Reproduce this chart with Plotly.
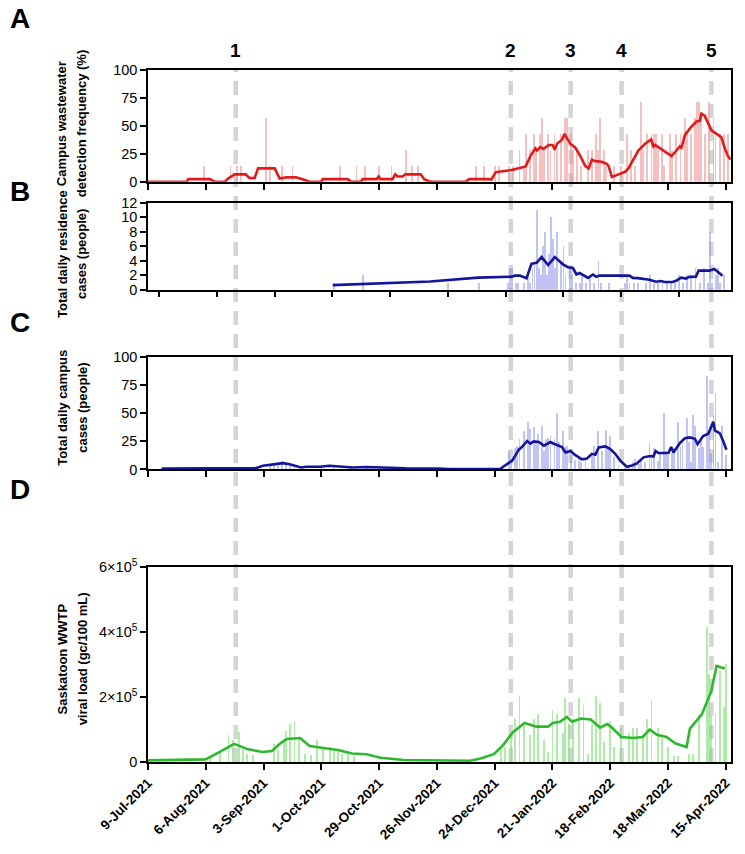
import pandas as pd
import plotly.graph_objects as go

START = pd.Timestamp("2021-07-09")

TICK_DATES = ["2021-07-09", "2021-08-06", "2021-09-03", "2021-10-01", "2021-10-29", "2021-11-26",
              "2021-12-24", "2022-01-21", "2022-02-18", "2022-03-18", "2022-04-15"]
TICK_LABELS = ["9-Jul-2021", "6-Aug-2021", "3-Sep-2021", "1-Oct-2021", "29-Oct-2021", "26-Nov-2021",
               "24-Dec-2021", "21-Jan-2022", "18-Feb-2022", "18-Mar-2022", "15-Apr-2022"]

EVENT_LABELS = ["1", "2", "3", "4", "5"]
EVENT_DAYS = [42.5, 175.8, 204.8, 229.5, 273.0]   # days after 9-Jul-2021

# ---- Panel A: campus wastewater detection frequency (%) ----
A_LINE = [(0, 0), (18.7, 0), (19.5, 2.4), (30, 2.4), (32.4, 0), (37.2, 0), (38.8, 3), (42, 6.7),
          (47.3, 6.7), (49.3, 3.3), (51.7, 3.5), (53.3, 12), (61.4, 12), (63.8, 3), (67, 4), (71.8, 4),
          (77.5, 0.7), (78.3, 0), (83.9, 0), (84.7, 2.4), (96.8, 2.4), (98.4, 0), (103.2, 0), (104, 2.4),
          (110.8, 2.4), (111.8, 4.8), (112.7, 2.4), (118.5, 2.4), (119.8, 6.7), (120.9, 4.8), (123.3, 4.8),
          (124.6, 6.7), (132.2, 6.7), (133.8, 2.4), (136.2, 0.5), (137.8, 0), (154, 0), (155.6, 2.4),
          (165.2, 2.6), (166.3, 2.0), (168.5, 8.6), (176, 10.5), (183, 13.8), (185.3, 23), (187.7, 30),
          (188.5, 28), (190.1, 31), (191.7, 29.5), (194.2, 33), (196.1, 33), (197.1, 28.6), (198.2, 34),
          (200.6, 37.6), (201.9, 43), (203, 39), (204.7, 34), (207.1, 30.5), (209.5, 23), (211.9, 14),
          (213.5, 12), (215.1, 19.8), (216.7, 18.5), (219.9, 18), (222.4, 16), (223.2, 14), (224.8, 4.3),
          (228, 6.7), (231.2, 9), (232.8, 12), (234.4, 17), (237.6, 28), (240.9, 34), (243.8, 38),
          (244.9, 31.7), (245.7, 33), (248.9, 29), (253.7, 23), (256.1, 28), (257.7, 31.7), (258.5, 30.5),
          (260.2, 42), (263.4, 49.5), (265.8, 54), (267.4, 54.5), (268.2, 61), (269.8, 59), (271.4, 53),
          (273, 46), (274.6, 44), (277, 41), (277.8, 40), (279.4, 30.5), (281, 23), (282.3, 20)]
A_BARS = [(27, 14.3), (40, 14.3), (43, 14.3), (45, 14.3), (57, 57.1), (59, 14.3), (65, 14.3), (70, 14.3),
          (93, 14.3), (101, 14.3), (105, 14.3), (112, 14.3), (118, 14.3), (125, 28.6), (128, 14.3),
          (131, 14.3), (159, 14.3), (163, 14.3), (168, 14.3), (170, 14.3), (175, 14.3), (177, 14.3),
          (180, 28.6), (182, 14.3), (183, 42.9), (185, 28.6), (187, 42.9), (188, 28.6), (190, 42.9),
          (191, 57.1), (192, 28.6), (194, 42.9), (195, 28.6), (197, 42.9), (198, 28.6), (200, 42.9),
          (202, 57.1), (203, 57.1), (205, 42.9), (206, 28.6), (208, 28.6), (210, 14.3), (213, 28.6),
          (215, 28.6), (217, 42.9), (218, 28.6), (219, 57.1), (221, 28.6), (222, 14.3), (226, 14.3),
          (229, 14.3), (232, 42.9), (234, 28.6), (236, 14.3), (239, 71.4), (240, 28.6), (242, 42.9),
          (244, 42.9), (245, 42.9), (246, 42.9), (247, 28.6), (249, 42.9), (250, 14.3), (253, 42.9),
          (254, 28.6), (256, 42.9), (258, 42.9), (260, 57.1), (261, 42.9), (263, 42.9), (265, 57.1),
          (266, 71.4), (267, 71.4), (268, 57.1), (270, 42.9), (272, 71.4), (274, 57.1), (275, 42.9),
          (277, 42.9), (279, 42.9), (281, 42.9)]

# ---- Panel B: total daily residence cases (days on panel B's own axis) ----
B_LINE = [(84.2, 0.63), (131.4, 1.14), (154.7, 1.66), (170.8, 1.8), (172.5, 1.94), (174.9, 1.94),
          (178.1, 1.57), (180.5, 3.57), (183, 3.7), (185.4, 4.5), (188.6, 3.4), (191.8, 4.5), (195.8, 3.5),
          (198.2, 3.1), (200.6, 3.0), (202.3, 2.1), (203.9, 2.3), (207.9, 1.63), (210.3, 2.1), (211.9, 1.77),
          (213.5, 1.94), (228, 1.94), (229.6, 1.63), (232, 1.6), (237.7, 1.37), (240.9, 1.09), (243.3, 1.2),
          (244.9, 1.06), (248.9, 1.06), (250.6, 1.23), (253, 1.66), (255.4, 1.54), (257, 1.77), (260.2, 1.8),
          (261.5, 2.63), (266.7, 2.63), (269.1, 2.86), (271.5, 2.29), (273.1, 1.94)]
B_BARS = [(85, 1), (99, 2), (140, 1), (155, 1), (169, 1), (170, 3), (171, 3), (173, 1), (174, 1), (177, 1),
          (179, 2), (180, 1), (181, 3), (182, 4), (183, 11), (184, 3), (185, 2), (186, 6), (187, 8), (188, 2),
          (189, 5), (190, 10), (191, 7), (192, 3), (193, 8), (195, 4), (196, 6), (197, 2), (199, 3), (200, 2),
          (202, 1), (204, 1), (205, 2), (207, 1), (209, 2), (211, 1), (213, 4), (214, 1), (218, 1), (226, 1),
          (227, 2), (228, 1), (230, 1), (232, 1), (236, 1), (238, 2), (240, 1), (242, 1), (244, 1), (246, 1),
          (248, 1), (250, 1), (252, 2), (254, 1), (256, 2), (258, 2), (260, 3), (262, 1), (264, 3), (266, 1),
          (267, 8), (268, 1), (270, 2), (271, 3), (272, 1), (274, 2)]

# ---- Panel C: total daily campus cases ----
C_LINE = [(6.6, 0.8), (52.5, 1.2), (55.7, 3.2), (60.5, 4.1), (65.4, 5.6), (68.6, 4.6), (74.2, 1.7),
          (76.7, 2.4), (83.1, 2.4), (87.9, 3.2), (89.5, 3.0), (92.8, 2.2), (99.2, 1.7), (105.6, 2.2),
          (112, 1.7), (125, 1.0), (141, 0.7), (146, 0.3), (170.9, 0.5), (172.1, 2.4), (176.5, 7.8),
          (179.7, 17.5), (181.3, 20), (183.7, 25.2), (185.3, 22.8), (186.9, 24.8), (189.4, 24.3), (191.8, 21.1),
          (195, 24.3), (196.6, 22.8), (200.6, 19.9), (202.3, 15), (204.7, 16.3), (207.1, 12.6), (210.3, 9),
          (212.7, 9.7), (215.1, 13.8), (216.8, 13.1), (218.4, 19.4), (221.6, 20.4), (224, 18), (226.4, 13.8),
          (228.8, 7.8), (232, 2.4), (234.5, 3.4), (236.9, 5.3), (240.1, 10.7), (243.3, 11.9), (244.9, 11.4),
          (246, 16.3), (247.3, 14.6), (252.2, 14.6), (253.5, 19.9), (254.6, 15), (257.8, 23.5), (260.2, 27.7),
          (262.6, 28.4), (265, 27.2), (266.3, 22.3), (269, 29.6), (271.5, 31.6), (272.8, 37.4), (273.9, 42.2),
          (274.7, 34.5), (277.1, 32), (278.7, 25.2), (280.3, 17.5)]
C_BARS = [(59, 3), (61, 5), (63, 7), (65, 8), (67, 6), (69, 5), (71, 4), (84, 3), (90, 4), (98, 2), (106, 3),
          (115, 2), (175, 17), (176, 10), (178, 19), (179, 21), (180, 27), (182, 34), (184, 42), (185, 36),
          (187, 38), (188, 25), (189, 32), (191, 39), (192, 17), (193, 27), (194, 28), (195, 30), (197, 27),
          (198, 50), (199, 25), (201, 34), (202, 20), (203, 21), (205, 13), (207, 9), (209, 10), (210, 7),
          (212, 10), (213, 2), (215, 15), (216, 21), (218, 34), (220, 17), (222, 35), (223, 21), (224, 30),
          (226, 11), (228, 4), (231, 2), (233, 4), (235, 7), (236, 10), (238, 5), (239, 8), (241, 7), (243, 24),
          (244, 11), (245, 19), (247, 8), (248, 14), (250, 50), (251, 17), (252, 13), (254, 15), (255, 19),
          (257, 42), (258, 20), (259, 28), (261, 46), (262, 25), (263, 7), (264, 49), (265, 39), (267, 19),
          (268, 26), (269, 20), (271, 83), (272, 34), (273, 15), (274, 49), (275, 68), (276, 7), (278, 39),
          (280, 13)]

# ---- Panel D: Saskatoon WWTP viral load (gc/100 mL) ----
D_LINE = [(0, 5e3), (27.9, 8e3), (34.8, 31e3), (41.7, 56e3), (48.5, 39e3), (55.4, 31e3), (60, 34e3),
          (64.6, 60e3), (67.3, 71e3), (73.7, 74e3), (78.3, 49e3), (85.2, 43e3), (92, 37e3), (98.9, 26e3),
          (105.8, 24e3), (112.6, 13e3), (124, 6e3), (156, 4e3), (160.7, 10e3), (167.6, 24e3), (172.2, 53e3),
          (176.7, 91e3), (182.5, 120e3), (188.2, 109e3), (193.9, 109e3), (196.2, 120e3), (199.6, 124e3),
          (203, 139e3), (205.4, 124e3), (209.9, 134e3), (214.5, 131e3), (219.1, 106e3), (222.5, 117e3),
          (224.8, 106e3), (229.4, 77e3), (235.1, 74e3), (239.7, 77e3), (243.1, 100e3), (246.6, 84e3),
          (251.2, 77e3), (255.7, 57e3), (261, 46e3), (262.6, 103e3), (268.3, 146e3), (272.9, 217e3),
          (275.5, 296e3), (279.5, 288e3)]
D_BARS = [(20, 5e3), (30, 12e3), (35, 30e3), (39, 81e3), (41, 67e3), (44, 93e3), (46, 39e3), (48, 24e3),
          (51, 21e3), (61, 56e3), (63, 39e3), (66, 71e3), (67, 96e3), (69, 117e3), (71, 124e3), (73, 74e3),
          (76, 24e3), (79, 22e3), (82, 67e3), (85, 43e3), (88, 46e3), (90, 39e3), (92, 31e3), (94, 24e3),
          (97, 31e3), (100, 17e3), (171, 39e3), (173, 46e3), (176, 81e3), (178, 131e3), (180, 203e3),
          (182, 117e3), (185, 81e3), (187, 131e3), (189, 146e3), (192, 67e3), (194, 31e3), (196, 160e3),
          (198, 146e3), (201, 89e3), (202, 196e3), (204, 117e3), (206, 131e3), (209, 196e3), (211, 174e3),
          (213, 24e3), (215, 117e3), (217, 203e3), (219, 181e3), (221, 60e3), (224, 124e3), (226, 46e3),
          (229, 103e3), (233, 89e3), (235, 103e3), (237, 103e3), (240, 81e3), (242, 131e3), (244, 189e3),
          (247, 103e3), (249, 74e3), (252, 46e3), (255, 17e3), (257, 17e3), (262, 24e3), (264, 24e3),
          (267, 146e3), (271, 415e3), (272, 270e3), (273, 140e3), (275, 150e3), (277, 280e3), (279, 170e3),
          (280, 300e3)]

Y_TITLES = [("Campus wastewater", "detection frequency (%)"), ("Total daily residence", "cases (people)"),
            ("Total daily campus", "cases (people)"), ("Saskatoon WWTP", "viral load (gc/100 mL)")]
PANEL_LETTERS = ["A", "B", "C", "D"]


def to_dates(days):
    return START + pd.to_timedelta(list(days), unit="D")


def split(pairs):
    d, v = zip(*pairs)
    return to_dates(d), list(v)


FONT = "Liberation Sans, Arial, sans-serif"
W, H = 745, 854
ML, MR, MT, MB = 148, 12, 70, 91
PW, PH = W - ML - MR, H - MT - MB


def py(ypix):
    return (H - MB - ypix) / PH


def px(xpix):
    return (xpix - ML) / PW


# panel vertical extents (pixel rows of top and bottom)
PANELS = [(70, 182), (203, 290), (357, 470), (568, 763)]
TITLE_CENTERS = [124, 254, 408, 660]
TITLE_LINE_X = [62, 82]
LETTER_Y = [18, 192, 323, 490]

fig = go.Figure()
DAY_MS = 86400000

specs = [
    (A_LINE, A_BARS, "#e31a1c", "rgba(240,140,140,0.55)", "x", "y"),
    (B_LINE, B_BARS, "#14149c", "rgba(140,145,235,0.55)", "x2", "y2"),
    (C_LINE, C_BARS, "#14149c", "rgba(140,145,235,0.55)", "x3", "y3"),
    (D_LINE, D_BARS, "#2db82d", "rgba(120,225,110,0.6)", "x4", "y4"),
]
for line, bars, lc, bc, xa, ya in specs:
    bx, by = split(bars)
    fig.add_trace(go.Bar(x=bx, y=by, width=0.9 * DAY_MS, marker=dict(color=bc, line=dict(width=0)),
                         xaxis=xa, yaxis=ya, showlegend=False))
    lx, lv = split(line)
    fig.add_trace(go.Scatter(x=lx, y=lv, mode="lines", line=dict(color=lc, width=2.6),
                             xaxis=xa, yaxis=ya, showlegend=False, cliponaxis=False))

axis_common = dict(showline=True, linecolor="black", linewidth=1.5, mirror=True, ticks="outside",
                   ticklen=6, tickwidth=1.5, tickcolor="black", showgrid=False, zeroline=False)

full_range = [START, START + pd.Timedelta(days=282.5)]
b_range = [START - pd.Timedelta(days=5.3), START + pd.Timedelta(days=277.2)]

yranges = [[0, 100], [0, 12], [0, 100], [0, 6e5]]
ytickvals = [[0, 25, 50, 75, 100], [0, 2, 4, 6, 8, 10, 12], [0, 25, 50, 75, 100], [0, 2e5, 4e5, 6e5]]
yticktext = [None, None, None, ["0", "2×10<sup>5</sup>", "4×10<sup>5</sup>", "6×10<sup>5</sup>"]]

layout = dict(width=W, height=H, margin=dict(l=ML, r=MR, t=MT, b=MB), plot_bgcolor="white",
              paper_bgcolor="white", bargap=0, font=dict(family=FONT, color="black"))

for i, (top, bot) in enumerate(PANELS):
    n = "" if i == 0 else str(i + 1)
    xr = b_range if i == 1 else full_range
    xa = dict(axis_common, domain=[0, 1], anchor="y" + n, range=xr, type="date",
              tickvals=TICK_DATES, showticklabels=(i == 3))
    if i == 3:
        xa.update(ticktext=TICK_LABELS, tickangle=-45,
                  tickfont=dict(family=FONT, size=13.5, color="black", weight="bold"))
    ya = dict(axis_common, domain=[py(bot), py(top)], anchor="x" + n, range=yranges[i],
              tickvals=ytickvals[i], tickfont=dict(family=FONT, size=14.5, color="black"))
    if yticktext[i] is not None:
        ya["ticktext"] = yticktext[i]
    layout["xaxis" + n] = xa
    layout["yaxis" + n] = ya

annotations = []
for i in range(4):
    for line_text, lx in zip(Y_TITLES[i], TITLE_LINE_X):
        annotations.append(dict(text=line_text, xref="paper", yref="paper", x=px(lx),
                                y=py(TITLE_CENTERS[i]), textangle=-90, showarrow=False,
                                xanchor="center", yanchor="middle",
                                font=dict(family=FONT, size=13, color="black", weight="bold")))
    annotations.append(dict(text=PANEL_LETTERS[i], xref="paper", yref="paper", x=px(20), y=py(LETTER_Y[i]),
                            showarrow=False, xanchor="center", yanchor="middle",
                            font=dict(family=FONT, size=28, color="black", weight="bold")))

event_dates = to_dates(EVENT_DAYS)
shapes = []
for lab, dt in zip(EVENT_LABELS, event_dates):
    annotations.append(dict(text=lab, xref="x", yref="paper", x=dt, y=py(50), showarrow=False,
                            xanchor="center", yanchor="middle",
                            font=dict(family=FONT, size=19, color="black", weight="bold")))
    shapes.append(dict(type="line", xref="x", yref="paper", x0=dt, x1=dt, y0=0, y1=1,
                       line=dict(color="#d4d4d4", width=4.5, dash="14px,9px"), layer="below"))

layout["annotations"] = annotations
layout["shapes"] = shapes
fig.update_layout(**layout)
fig.write_html("out.html", config={"displayModeBar": False},
               post_script="document.body.style.margin='0px';")
